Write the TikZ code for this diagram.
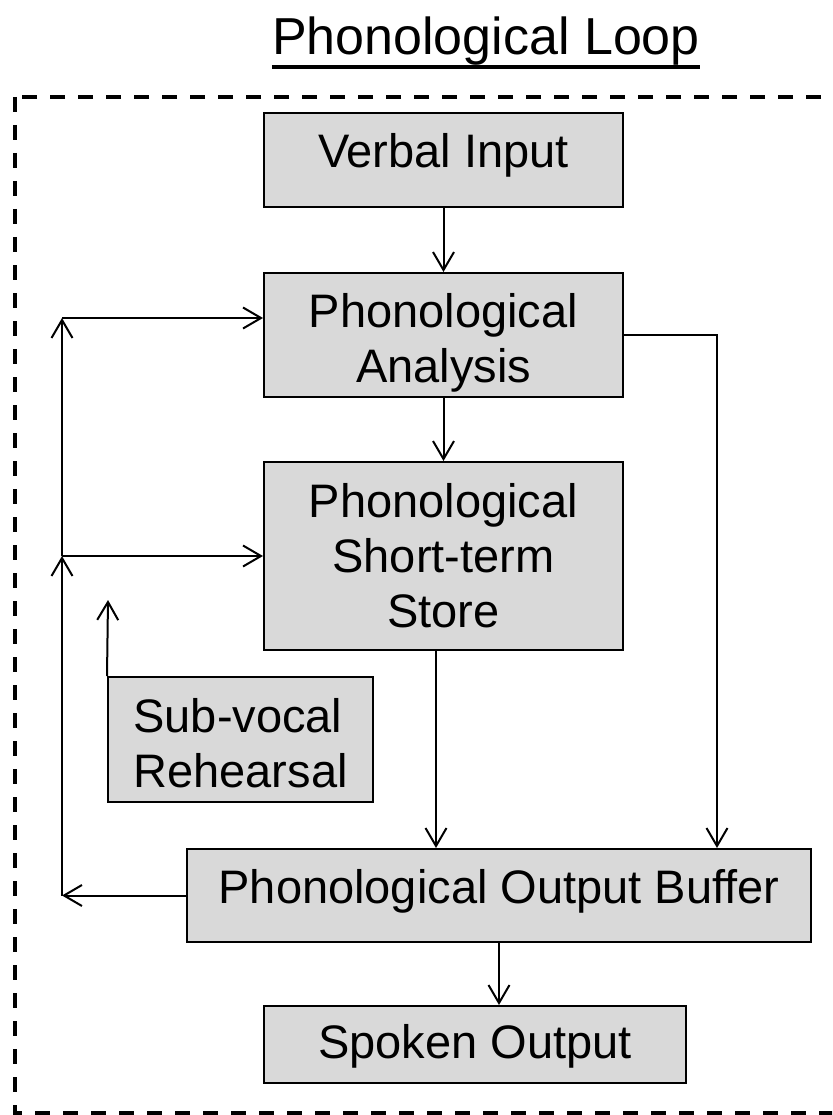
\documentclass[tikz,border=0pt]{standalone}
\usepackage{fontspec}
\setmainfont{Liberation Sans}
\usetikzlibrary{arrows.meta,positioning}
\definecolor{boxgray}{RGB}{217,217,217}
\tikzset{
  blk/.style={draw, fill=boxgray, line width=2pt, inner sep=0pt, align=center,
    font=\fontsize{47}{55}\selectfont, text height=34pt},
  arr/.style={line width=2pt, -{Straight Barb[length=18pt,width=21pt,line width=2pt]}},
}
\begin{document}
\begin{tikzpicture}[x=1pt,y=-1pt]
  \useasboundingbox (0,0) rectangle (832,1115);
  \clip (0,0) rectangle (832,1115);
  % dashed frame (runs off to the right)
  \draw[line width=4pt, dash pattern=on 15pt off 13pt] (15,97) rectangle (900,1113);
  % title
  \node (title) [anchor=base, inner sep=0pt, font=\fontsize{52}{60}\selectfont] at (486,55) {Phonological Loop};
  \draw[line width=4pt] ([yshift=-12pt]title.base west) -- ([yshift=-12pt]title.base east);

  % boxes
  \node (verbal) [blk, minimum width=359pt, minimum height=94pt, text depth=18pt] at (443.5,160) {Verbal Input};
  \node (analysis) [blk, below=64pt of verbal, minimum width=359pt, minimum height=124pt, text height=99pt, text depth=5pt] {Phonological\\Analysis};
  \node (store) [blk, below=63pt of analysis, minimum width=359pt, minimum height=188pt, text height=145pt, text depth=3pt] {Phonological\\Short-term\\Store};
  \node (subvocal) [blk, align=left, minimum width=265pt, minimum height=125pt, text height=99pt, text depth=4pt] at (240.5,739.5) {Sub-vocal\\Rehearsal};
  \node (buffer) [blk, minimum width=624pt, minimum height=93pt, text depth=19pt] at (499,895.5) {Phonological Output Buffer};
  \node (spoken) [blk, minimum width=422pt, minimum height=77pt, text depth=7pt] at (475,1044.5) {Spoken Output};

  % turning points
  \coordinate (lx) at (62,0);
  \coordinate (rx) at (717,0);
  \coordinate (lbot) at (lx |- buffer.west);
  \coordinate (lmid) at (lx |- store.west);
  \coordinate (ltop) at (62,318);
  \coordinate (svtip) at (108,600);

  % connectors
  \draw[arr] (verbal) -- (analysis);
  \draw[arr] (analysis) -- (store);
  \draw[arr] ([xshift=-7.5pt]store.south) -- ([xshift=-7.5pt]store.south |- buffer.north);
  \draw[arr] (buffer.south) -- (buffer.south |- spoken.north);
  \draw[arr] (analysis.east) -| (rx |- buffer.north);
  \draw[arr] (buffer.west) -- (lbot);
  \draw[arr] (lbot) -- (lmid);
  \draw[arr] (lmid) -- (store.west);
  \draw[arr] (lmid) -- (ltop);
  \draw[arr] (ltop) -- (ltop -| analysis.west);
  \draw[arr] (subvocal.north west) -- (svtip);
\end{tikzpicture}
\end{document}
